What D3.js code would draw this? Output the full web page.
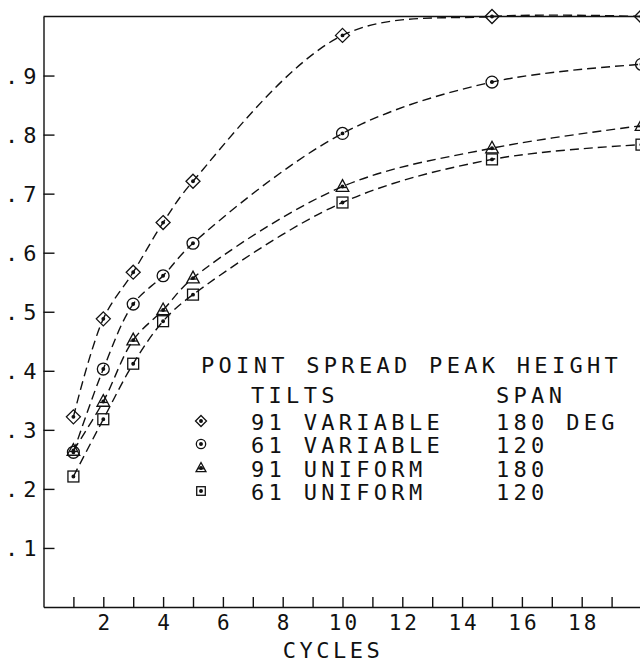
<!DOCTYPE html>
<html>
<head>
<meta charset="utf-8">
<script src="https://cdn.jsdelivr.net/npm/d3@7"></script>
<style>
  body { margin: 0; background: #fff; }
  text { font-family: "DejaVu Sans Mono", monospace; fill: #111; }
</style>
</head>
<body>
<div id="chart"></div>
<script>
// values
var cycles = [1, 2, 3, 4, 5, 10, 15, 20];
var var91 = [0.322, 0.488, 0.567, 0.651, 0.721, 0.968, 1.0, 1.0];
var var61 = [0.262, 0.403, 0.513, 0.561, 0.616, 0.802, 0.889, 0.919];
var uni91 = [0.265, 0.348, 0.452, 0.503, 0.557, 0.712, 0.777, 0.815];
var uni61 = [0.221, 0.318, 0.412, 0.484, 0.529, 0.685, 0.758, 0.783];

var yTicks = [0.1, 0.2, 0.3, 0.4, 0.5, 0.6, 0.7, 0.8, 0.9];
var xTicks = d3.range(1, 21);
var xLabels = [2, 4, 6, 8, 10, 12, 14, 16, 18];

var seriesMarks = ["diamond", "circle", "triangle", "square"];
var legendTilts = ["91 VARIABLE", "61 VARIABLE", "91 UNIFORM", "61 UNIFORM"];
var legendSpan = ["180 DEG", "120", "180", "120"];

var allSeries = [var91, var61, uni91, uni61];

var width = 640, height = 662;

var svg = d3.select("#chart")
    .append("svg")
    .attr("width", width)
    .attr("height", height);

var x = d3.scaleLinear().domain([0, 20]).range([43.5, 641.5]);
var y = d3.scaleLinear().domain([0, 1]).range([607, 16.5]);

// y axis, ticks point inward
var yAxis = svg.append("g")
    .attr("transform", "translate(" + x(0) + ",0)")
    .call(d3.axisLeft(y)
        .tickValues(yTicks)
        .tickSize(-11)
        .tickSizeOuter(0)
        .tickPadding(2)
        .tickFormat(function(d) { return d3.format(".1f")(d).replace("0.", "."); }));
yAxis.selectAll("text")
    .style("font-size", "22px")
    .style("letter-spacing", "5px")
    .attr("dy", "0.36em");

// x axis
var xAxis = svg.append("g")
    .attr("transform", "translate(0," + y(0) + ")")
    .call(d3.axisBottom(x)
        .tickValues(xTicks)
        .tickSize(-10)
        .tickSizeOuter(0)
        .tickPadding(7)
        .tickFormat(function(d) { return xLabels.indexOf(d) >= 0 ? d : ""; }));
xAxis.selectAll("text")
    .style("font-size", "21px")
    .style("letter-spacing", "3px")
    .attr("dx", "1.5px")
    .attr("dy", "0.75em");

svg.selectAll(".domain, .tick line")
    .attr("stroke", "#111")
    .attr("stroke-width", 1.4);
svg.selectAll(".tick text").attr("fill", "#111");

// top frame line
svg.append("line")
    .attr("x1", x(0)).attr("x2", x(20))
    .attr("y1", y(1)).attr("y2", y(1))
    .attr("stroke", "#111")
    .attr("stroke-width", 1.4);

svg.append("text")
    .attr("x", 333)
    .attr("y", 658)
    .attr("text-anchor", "middle")
    .style("font-size", "22px")
    .style("letter-spacing", "3.5px")
    .text("CYCLES");

// curves
var line = d3.line()
    .x(function(d, i) { return x(cycles[i]); })
    .y(function(d) { return y(d); })
    .curve(d3.curveCatmullRom.alpha(0.5));

svg.append("g").selectAll("path")
    .data(allSeries)
    .enter()
    .append("path")
    .attr("d", line)
    .attr("fill", "none")
    .attr("stroke", "#111")
    .attr("stroke-width", 1.4)
    .attr("stroke-dasharray", "9,5");

function drawMark(g, type, cx, cy, s) {
    var p;
    if (type === "diamond") {
        p = [[cx, cy - s], [cx + s, cy], [cx, cy + s], [cx - s, cy]];
        g.append("path").attr("d", "M" + p.join("L") + "Z");
    } else if (type === "circle") {
        g.append("circle").attr("cx", cx).attr("cy", cy).attr("r", s * 0.85);
    } else if (type === "triangle") {
        var h = s * 0.9;
        p = [[cx, cy - h * 1.1], [cx + h, cy + h * 0.75], [cx - h, cy + h * 0.75]];
        g.append("path").attr("d", "M" + p.join("L") + "Z");
        g.append("line").attr("x1", cx - h * 0.6).attr("x2", cx + h * 0.6)
            .attr("y1", cy + h * 0.15).attr("y2", cy + h * 0.15);
    } else {
        var q = s * 0.78;
        g.append("rect").attr("x", cx - q).attr("y", cy - q)
            .attr("width", 2 * q).attr("height", 2 * q);
    }
    g.append("circle").attr("cx", cx).attr("cy", cy).attr("r", 1.3)
        .attr("fill", "#111");
}

var marks = svg.append("g")
    .attr("fill", "none")
    .attr("stroke", "#111")
    .attr("stroke-width", 1.3);

allSeries.forEach(function(vals, si) {
    vals.forEach(function(v, i) {
        drawMark(marks, seriesMarks[si], x(cycles[i]), y(v), 7);
    });
});

// legend
var legend = svg.append("g").style("font-size", "22px").style("letter-spacing", "4.3px");
legend.append("text").attr("x", 201).attr("y", 373).text("POINT SPREAD PEAK HEIGHT");
legend.append("text").attr("x", 251).attr("y", 403).text("TILTS");
legend.append("text").attr("x", 496).attr("y", 403).text("SPAN");

var rowY = [430, 453, 477, 500];
legendTilts.forEach(function(t, i) {
    legend.append("text").attr("x", 251).attr("y", rowY[i]).text(t);
    legend.append("text").attr("x", 496).attr("y", rowY[i]).text(legendSpan[i]);
    drawMark(marks, seriesMarks[i], 201, rowY[i] - 9, 5.5);
});
</script>
</body>
</html>
